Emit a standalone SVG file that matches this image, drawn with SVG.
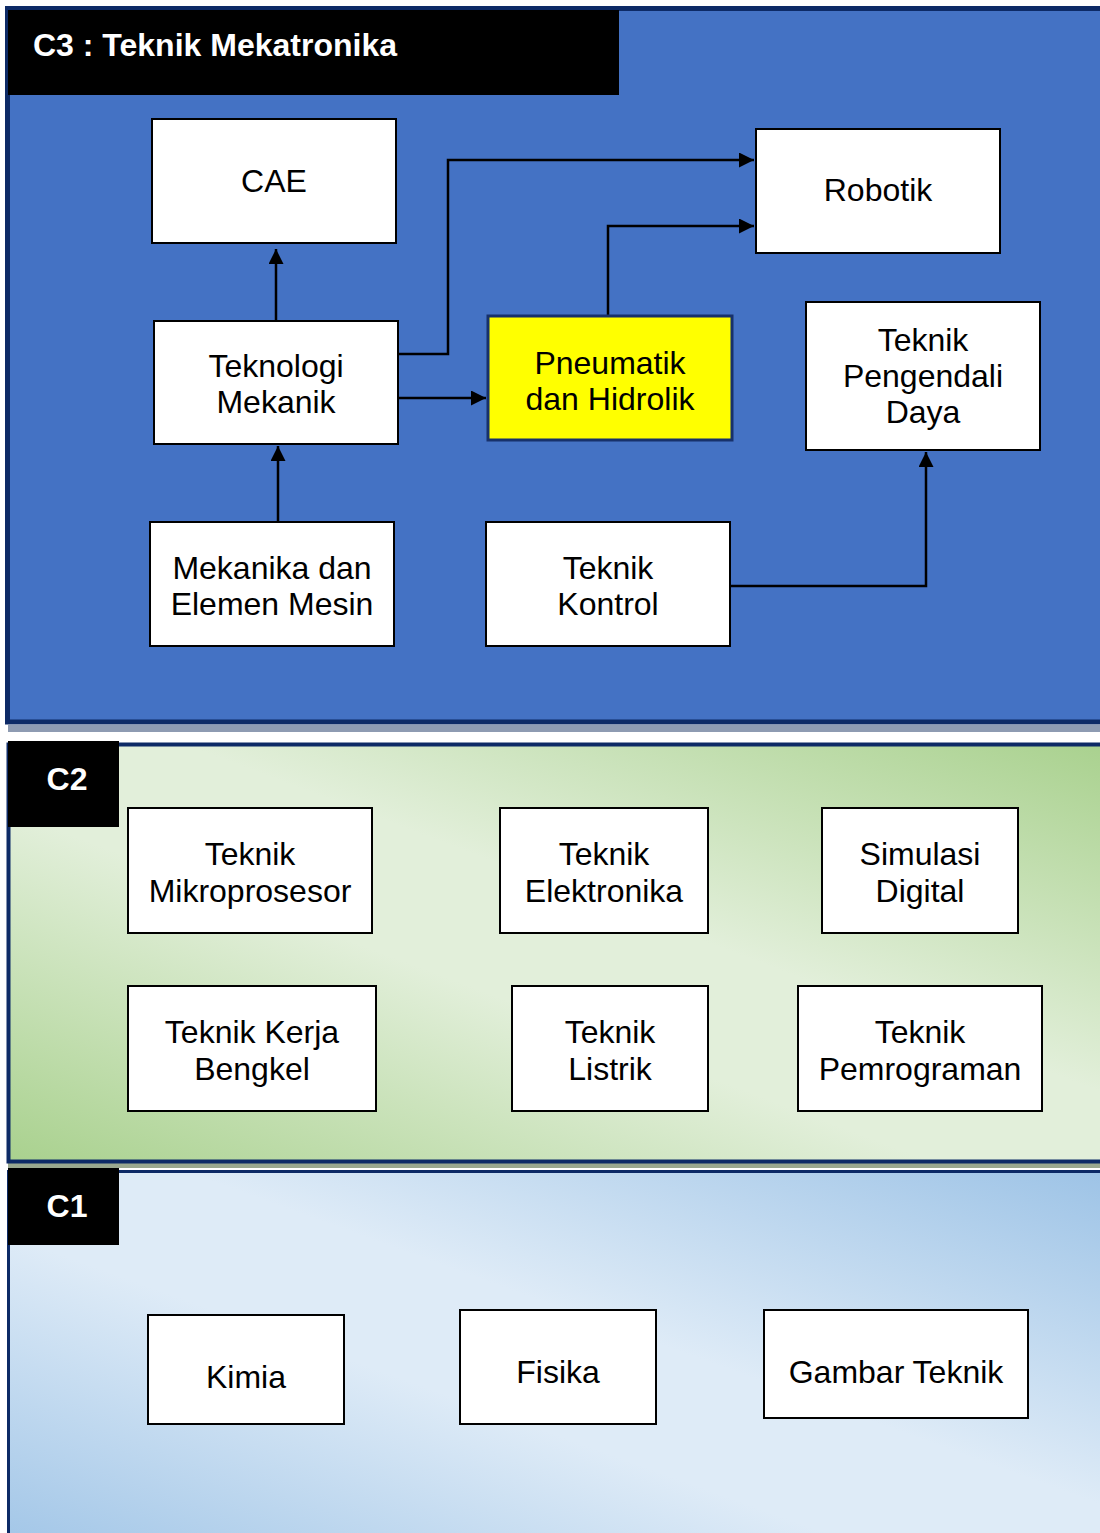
<svg xmlns="http://www.w3.org/2000/svg" width="1100" height="1533" viewBox="0 0 1100 1533">
<style>
.node{fill:#fff;stroke:#000;stroke-width:2}
.t{font-family:"Liberation Sans",Arial,sans-serif;font-size:32px;fill:#000;text-anchor:middle}
.h{font-family:"Liberation Sans",Arial,sans-serif;font-size:32px;font-weight:bold;fill:#fff}
.c{fill:none;stroke:#000;stroke-width:2.5}
</style>
<defs>
<marker id="ah" viewBox="0 0 10 10" refX="10" refY="5" markerWidth="6" markerHeight="6" markerUnits="strokeWidth" orient="auto">
<path d="M0,0 L10,5 L0,10 Z" fill="#000"/>
</marker>
<linearGradient id="g2" x1="0" y1="1" x2="1" y2="0">
<stop offset="0" stop-color="#a9d18e"/>
<stop offset="0.42" stop-color="#e2efda"/>
<stop offset="0.58" stop-color="#e2efda"/>
<stop offset="1" stop-color="#a9d18e"/>
</linearGradient>
<linearGradient id="g1" x1="0" y1="1" x2="1" y2="0">
<stop offset="0" stop-color="#9dc3e6"/>
<stop offset="0.42" stop-color="#deebf7"/>
<stop offset="0.58" stop-color="#deebf7"/>
<stop offset="1" stop-color="#9dc3e6"/>
</linearGradient>
</defs>

<g id="panel-c3">
<rect x="8" y="725" width="1092" height="7" fill="#8e9bb2"/>
<rect x="7.5" y="8.5" width="1100" height="713.5" fill="#4472c4" stroke="#0d2a66" stroke-width="5"/>
<rect x="8" y="10" width="611" height="85" fill="#000"/>
<text class="h" x="33" y="56">C3 : Teknik Mekatronika</text>
</g>

<g id="panel-c2">
<rect x="8" y="1163" width="1092" height="5" fill="#9aa88f"/>
<rect x="8.5" y="744.5" width="1100" height="417" fill="url(#g2)" stroke="#0d2a66" stroke-width="4"/>
<rect x="8" y="741" width="111" height="86" fill="#000"/>
<text class="h" x="67" y="790" text-anchor="middle">C2</text>
</g>

<g id="panel-c1">
<rect x="8.5" y="1171.5" width="1100" height="400" fill="url(#g1)" stroke="#0d2a66" stroke-width="3"/>
<rect x="8" y="1168" width="111" height="77" fill="#000"/>
<text class="h" x="67" y="1217" text-anchor="middle">C1</text>
</g>

<g id="connectors">
<path class="c" d="M276,321 V249" marker-end="url(#ah)"/>
<path class="c" d="M278,522 V446" marker-end="url(#ah)"/>
<path class="c" d="M398,354 H448 V160 H754" marker-end="url(#ah)"/>
<path class="c" d="M398,398 H486" marker-end="url(#ah)"/>
<path class="c" d="M608,316 V226 H754" marker-end="url(#ah)"/>
<path class="c" d="M730,586 H926 V452" marker-end="url(#ah)"/>
</g>

<g id="node-cae">
<rect class="node" x="152" y="119" width="244" height="124"/>
<text class="t" x="274" y="192">CAE</text>
</g>
<g id="node-robotik">
<rect class="node" x="756" y="129" width="244" height="124"/>
<text class="t" x="878" y="201">Robotik</text>
</g>
<g id="node-teknologi-mekanik">
<rect class="node" x="154" y="321" width="244" height="123"/>
<text class="t" x="276" y="377">Teknologi</text>
<text class="t" x="276" y="413">Mekanik</text>
</g>
<g id="node-pneumatik">
<rect x="488" y="316" width="244" height="124" fill="#ffff00" stroke="#17316b" stroke-width="3"/>
<text class="t" x="610" y="374">Pneumatik</text>
<text class="t" x="610" y="410">dan Hidrolik</text>
</g>
<g id="node-pengendali-daya">
<rect class="node" x="806" y="302" width="234" height="148"/>
<text class="t" x="923" y="351">Teknik</text>
<text class="t" x="923" y="387">Pengendali</text>
<text class="t" x="923" y="423">Daya</text>
</g>
<g id="node-mekanika">
<rect class="node" x="150" y="522" width="244" height="124"/>
<text class="t" x="272" y="579">Mekanika dan</text>
<text class="t" x="272" y="615">Elemen Mesin</text>
</g>
<g id="node-kontrol">
<rect class="node" x="486" y="522" width="244" height="124"/>
<text class="t" x="608" y="579">Teknik</text>
<text class="t" x="608" y="615">Kontrol</text>
</g>

<g id="node-mikroprosesor">
<rect class="node" x="128" y="808" width="244" height="125"/>
<text class="t" x="250" y="865">Teknik</text>
<text class="t" x="250" y="902">Mikroprosesor</text>
</g>
<g id="node-elektronika">
<rect class="node" x="500" y="808" width="208" height="125"/>
<text class="t" x="604" y="865">Teknik</text>
<text class="t" x="604" y="902">Elektronika</text>
</g>
<g id="node-simulasi">
<rect class="node" x="822" y="808" width="196" height="125"/>
<text class="t" x="920" y="865">Simulasi</text>
<text class="t" x="920" y="902">Digital</text>
</g>
<g id="node-kerja-bengkel">
<rect class="node" x="128" y="986" width="248" height="125"/>
<text class="t" x="252" y="1043">Teknik Kerja</text>
<text class="t" x="252" y="1080">Bengkel</text>
</g>
<g id="node-listrik">
<rect class="node" x="512" y="986" width="196" height="125"/>
<text class="t" x="610" y="1043">Teknik</text>
<text class="t" x="610" y="1080">Listrik</text>
</g>
<g id="node-pemrograman">
<rect class="node" x="798" y="986" width="244" height="125"/>
<text class="t" x="920" y="1043">Teknik</text>
<text class="t" x="920" y="1080">Pemrograman</text>
</g>

<g id="node-kimia">
<rect class="node" x="148" y="1315" width="196" height="109"/>
<text class="t" x="246" y="1388">Kimia</text>
</g>
<g id="node-fisika">
<rect class="node" x="460" y="1310" width="196" height="114"/>
<text class="t" x="558" y="1383">Fisika</text>
</g>
<g id="node-gambar-teknik">
<rect class="node" x="764" y="1310" width="264" height="108"/>
<text class="t" x="896" y="1383">Gambar Teknik</text>
</g>
</svg>
